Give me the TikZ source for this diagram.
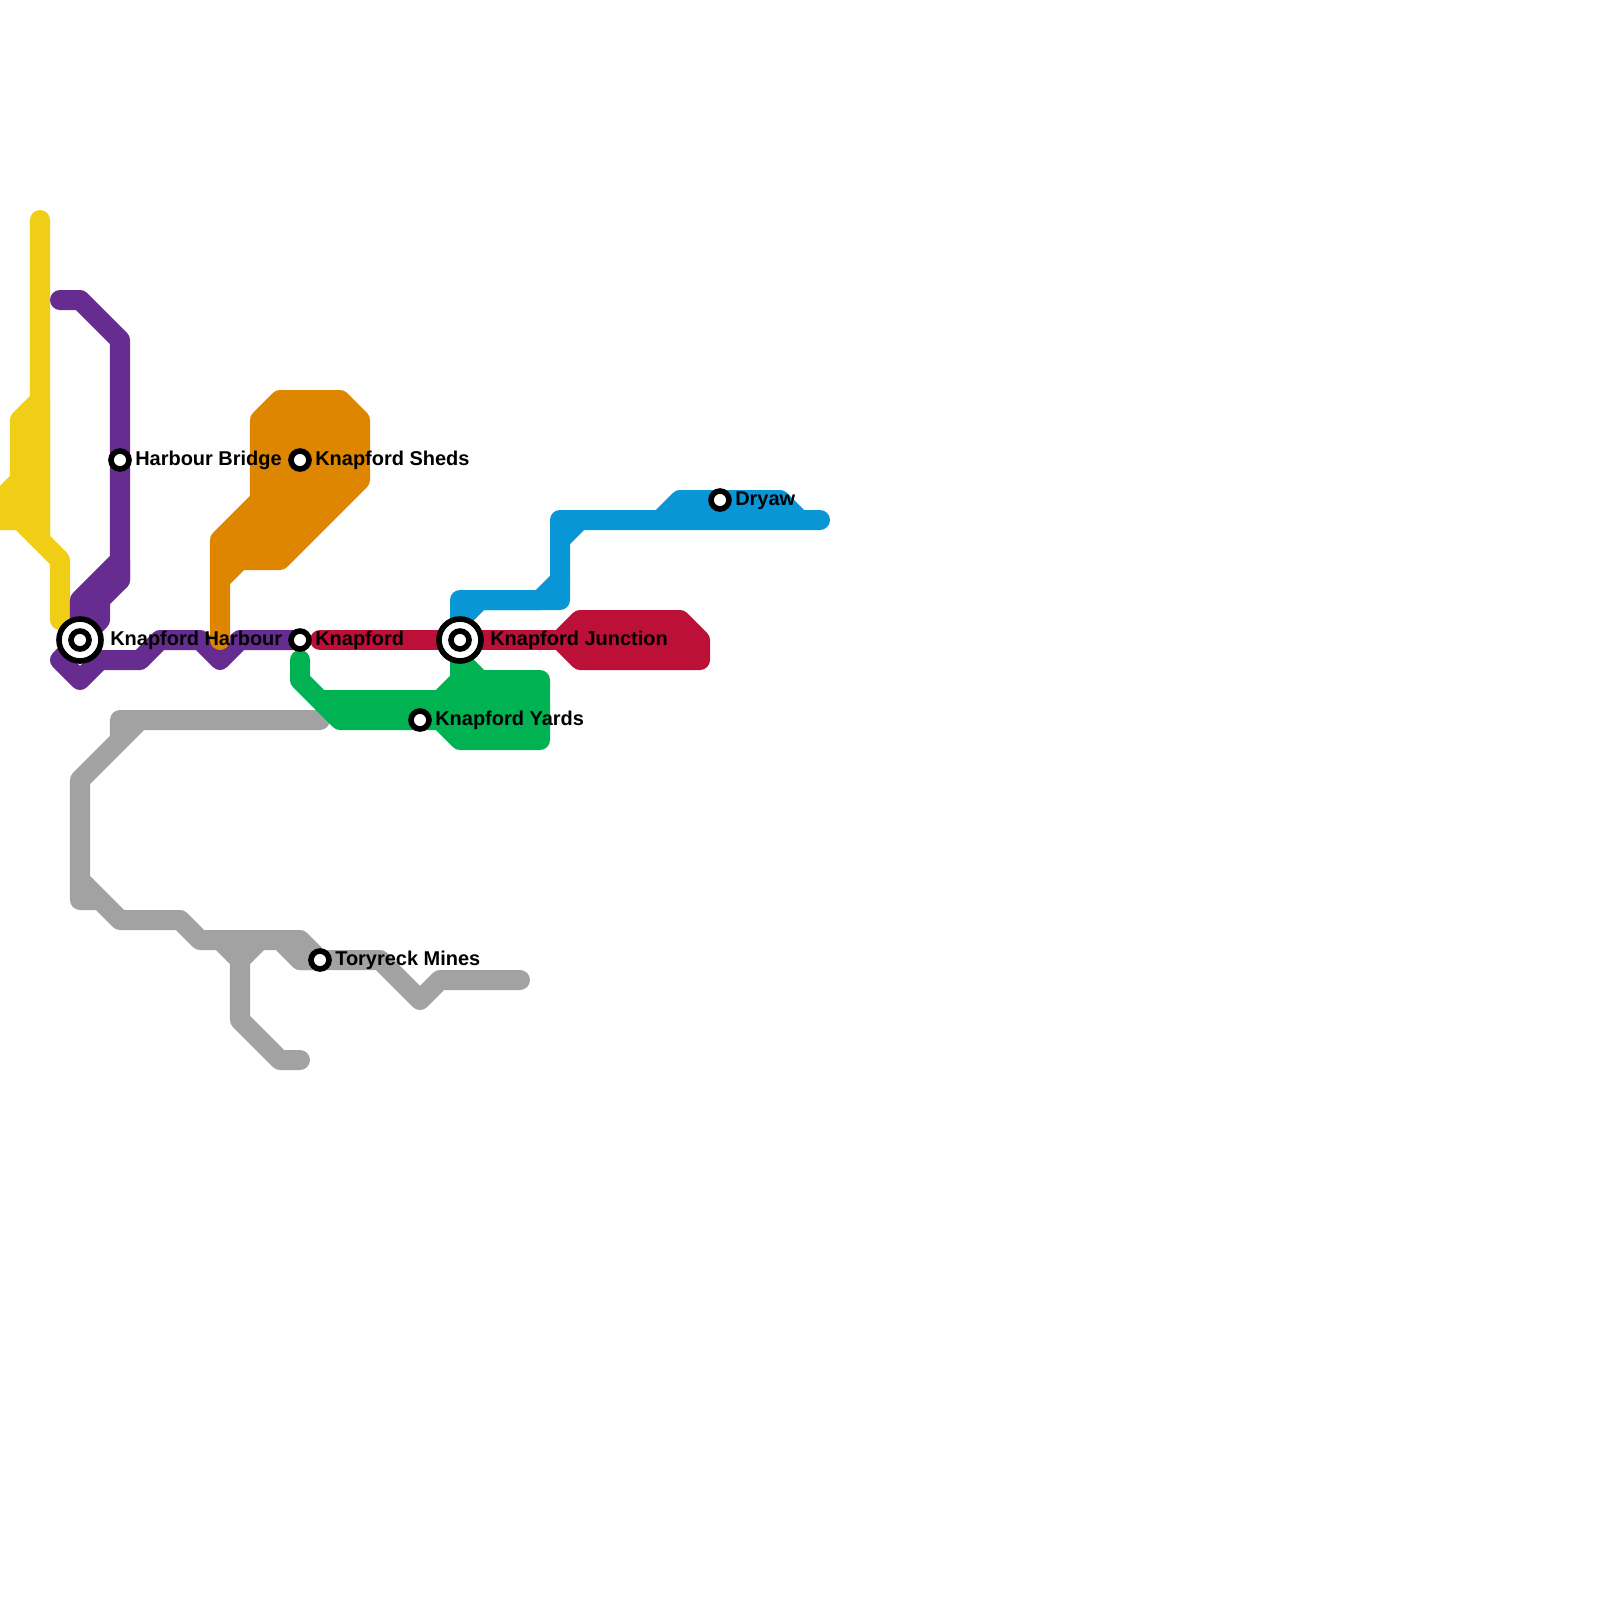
\documentclass[tikz,border=0pt]{standalone}
\usepackage{fontspec}
\setmainfont{Liberation Sans}
\definecolor{lineyellow}{HTML}{F0CE15}
\definecolor{linepurple}{HTML}{662C90}
\definecolor{lineorange}{HTML}{DF8600}
\definecolor{linered}{HTML}{BD1038}
\definecolor{linegreen}{HTML}{00B251}
\definecolor{lineblue}{HTML}{0896D7}
\definecolor{linegrey}{HTML}{A2A2A2}
\tikzset{
    trackline/.style={line width=0.5cm, line cap=round, line join=round},
    stopmark/.style={circle, draw=black, fill=white, line width=0.14cm, minimum size=0.45cm, inner sep=0pt},
    hubmark/.style={circle, draw=black, fill=white, line width=0.14cm, minimum size=1.05cm, inner sep=0pt},
    stoplabel/.style={anchor=base west, inner sep=0pt, font=\fontsize{14.2}{16}\selectfont\bfseries}
}
\begin{document}
\begin{tikzpicture}[x=0.025cm, y=-0.025cm]
    \useasboundingbox (0,0) rectangle (1600,1600);

    % Draw the yellow line
    \draw[trackline, lineyellow] (40,220) -- (40,540) -- (60,560) -- (60,620);
    \draw[trackline, lineyellow, fill=lineyellow] (40,400) -- (20,420) -- (20,480) -- (0,500) -- (0,520) -- (20,520) -- (40,540) -- cycle;

    % Draw the purple line
    \draw[trackline, linepurple] (60,300) -- (80,300) -- (120,340) -- (120,580);
    \draw[trackline, linepurple, fill=linepurple] (120,560) -- (80,600) -- (80,640) -- (100,620) -- (100,600) -- (120,580) -- cycle;
    \draw[trackline, linepurple] (80,640) -- (60,660) -- (80,680) -- (100,660) -- (140,660) -- (160,640) -- (200,640) -- (220,660) -- (240,640) -- (300,640);

    % Draw the orange line
    \draw[trackline, lineorange, fill=lineorange] (280,400) -- (340,400) -- (360,420) -- (360,480) -- (280,560) -- (240,560) -- (220,580) -- (220,640) -- (220,540) -- (260,500) -- (260,420) -- cycle;

    % Draw the grey line
    \draw[trackline, linegrey] (320,720) -- (120,720) -- (120,740) -- (140,720) -- (80,780) -- (80,900) -- (100,900) -- (80,880) -- (120,920) -- (180,920) -- (200,940) -- (300,940) -- (320,960) -- (300,960) -- (280,940);
    \draw[trackline, linegrey] (300,960) -- (380,960) -- (420,1000) -- (440,980) -- (520,980);
    \draw[trackline, linegrey] (220,940) -- (240,960) -- (240,1020) -- (280,1060) -- (300,1060);
    \draw[trackline, linegrey] (260,940) -- (240,960);

    % Draw the green line
    \draw[trackline, linegreen, fill=linegreen] (300,660) -- (300,680) -- (340,720) -- (440,720) -- (460,740) -- (540,740) -- (540,680) -- (480,680) -- (460,660) -- (460,680) -- (440,700) -- (320,700) -- (300,680) -- cycle;

    % Draw the red line
    \draw[trackline, linered] (320,640) -- (560,640);
    \draw[trackline, linered, fill=linered] (560,640) -- (580,620) -- (680,620) -- (700,640) -- (700,660) -- (580,660) -- cycle;

    % Draw the blue line
    \draw[trackline, lineblue] (460,620) -- (460,600) -- (540,600) -- (560,580) -- (560,520) -- (820,520);
    \draw[trackline, lineblue] (660,520) -- (680,500) -- (780,500) -- (800,520);
    \draw[trackline, lineblue] (460,620) -- (480,600) -- (560,600) -- (560,580);
    \draw[trackline, lineblue] (580,520) -- (560,540);

    % Draw the interchanges
    \foreach \name/\x/\y in {harbour/80/640, junction/460/640} {
        \node[hubmark] (\name ring) at (\x,\y) {};
        \node[stopmark] (\name) at (\x,\y) {};
    }

    % Draw the stations
    \foreach \name/\x/\y in {bridge/120/460, sheds/300/460, knapford/300/640, mines/320/960, yards/420/720, dryaw/720/500} {
        \node[stopmark] (\name) at (\x,\y) {};
    }

    % Draw the station labels
    \foreach \name/\x/\y/\label in {harbour/110/645/Knapford Harbour, junction/490/645/Knapford Junction, bridge/135/465/Harbour Bridge, sheds/315/465/Knapford Sheds, knapford/315/645/Knapford, mines/335/965/Toryreck Mines, yards/435/725/Knapford Yards, dryaw/735/505/Dryaw} {
        \node[stoplabel] (\name label) at (\x,\y) {\label};
    }
\end{tikzpicture}
\end{document}
